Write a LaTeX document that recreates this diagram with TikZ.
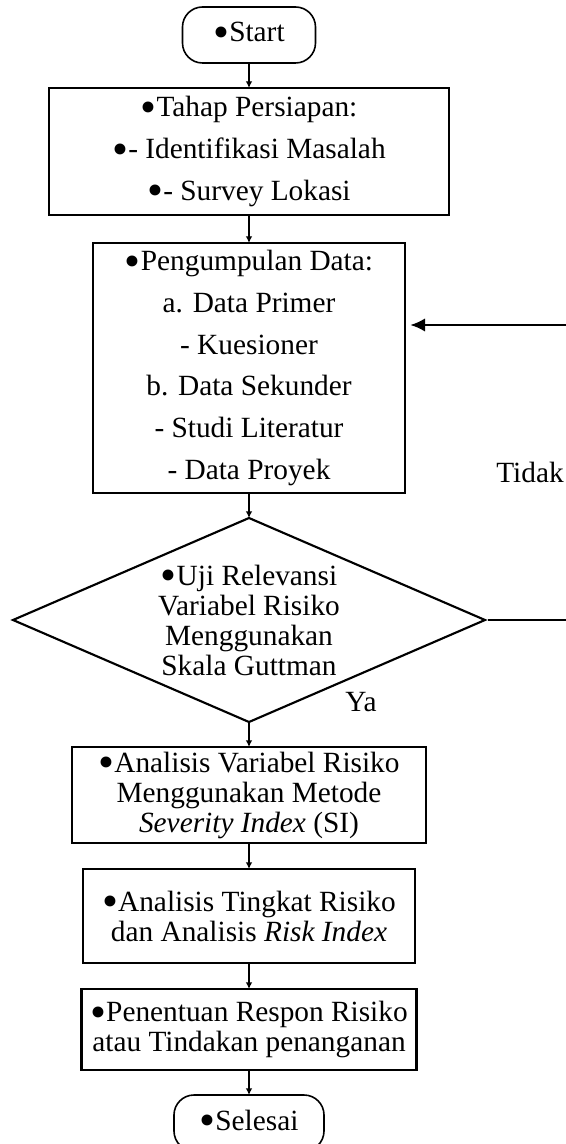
\documentclass[tikz,border=0pt]{standalone}
\usepackage{graphicx}
\usepackage{fontspec}
\setmainfont{Liberation Serif}
\usetikzlibrary{arrows.meta,positioning,shapes.geometric}

\newcommand{\titik}{\raisebox{-0.19em}{\scalebox{1.55}{\textbullet}}}

\tikzset{
  kotak/.style={draw,rectangle,line width=1.8pt,align=center,inner sep=0pt,outer sep=0pt,
    font=\fontsize{22}{22.5}\selectfont},
  kotaklebar/.style={kotak,font=\fontsize{22}{31.3}\selectfont},
  terminal/.style={draw,rectangle,rounded corners=15pt,line width=1.2pt,outer sep=0pt,
    minimum height=42pt,inner sep=0pt,font=\fontsize{22}{22.5}\selectfont},
  keputusan/.style={draw,diamond,aspect=2.31,line width=1.6pt,align=center,inner sep=0pt,
    outer sep=0pt,minimum width=354pt,minimum height=153pt,font=\fontsize{22}{22.5}\selectfont},
  label/.style={font=\fontsize{22}{22.5}\selectfont},
  panah/.style={line width=1.5pt,-{Latex[length=5pt,width=5pt]}},
  panahbesar/.style={line width=1.5pt,-{Latex[length=11pt,width=10pt]}},
  garis/.style={line width=1.5pt}
}

\begin{document}
\begin{tikzpicture}[node distance=18.75pt]
  \useasboundingbox (-186.75pt,26.25pt) rectangle (237.75pt,-831.75pt);

  \node[terminal,minimum width=99.75pt] (start) at (0,0) {\titik Start};
  \node[kotaklebar,minimum width=300pt,minimum height=95.25pt] (siap) [below=of start]
    {\titik Tahap Persiapan:\\ \titik- Identifikasi Masalah\\ \titik- Survey Lokasi};
  \node[kotaklebar,minimum width=234pt,minimum height=187.5pt] (data) [below=21pt of siap]
    {\titik Pengumpulan Data:\\ a. Data Primer\\ - Kuesioner\\ b. Data Sekunder\\ - Studi Literatur\\ - Data Proyek};
  \node[keputusan] (uji) [below=of data]
    {\titik Uji Relevansi\\ Variabel Risiko\\ Menggunakan\\ Skala Guttman};
  \node[kotak,minimum width=265.5pt,minimum height=72pt] (si) [below=of uji]
    {\titik Analisis Variabel Risiko\\ Menggunakan Metode\\ \textit{Severity Index} (SI)};
  \node[kotak,minimum width=249pt,minimum height=70.5pt] (ri) [below=19.5pt of si]
    {\titik Analisis Tingkat Risiko\\ dan Analisis \textit{Risk Index}};
  \node[kotak,minimum width=251.25pt,minimum height=60.75pt] (respon) [below=19.5pt of ri]
    {\titik Penentuan Respon Risiko\\ atau Tindakan penanganan};
  \node[terminal,minimum width=112.5pt] (selesai) [below=of respon] {\titik Selesai};

  % label cabang
  \node[label] (tidak) at ([xshift=210.75pt,yshift=111pt]uji.center) {Tidak};
  \node[label] (ya) at ([xshift=84pt,yshift=-61.5pt]uji.center) {Ya};

  % alur utama
  \draw[panah] (start) -- (siap);
  \draw[panah] (siap) -- (data);
  \draw[panah] (data) -- (uji);
  \draw[panah] (uji) -- (si);
  \draw[panah] (si) -- (ri);
  \draw[panah] (ri) -- (respon);
  \draw[panah] (respon) -- (selesai);

  % umpan balik
  \coordinate (tepi) at (237.75pt,0);
  \coordinate (masuk) at ([yshift=32.25pt]data.east);
  \draw[garis,shorten <=2pt] (uji.east) -- (uji.east -| tepi);
  \draw[panahbesar] (masuk -| tepi) -- ([xshift=4pt]masuk);
\end{tikzpicture}
\end{document}
